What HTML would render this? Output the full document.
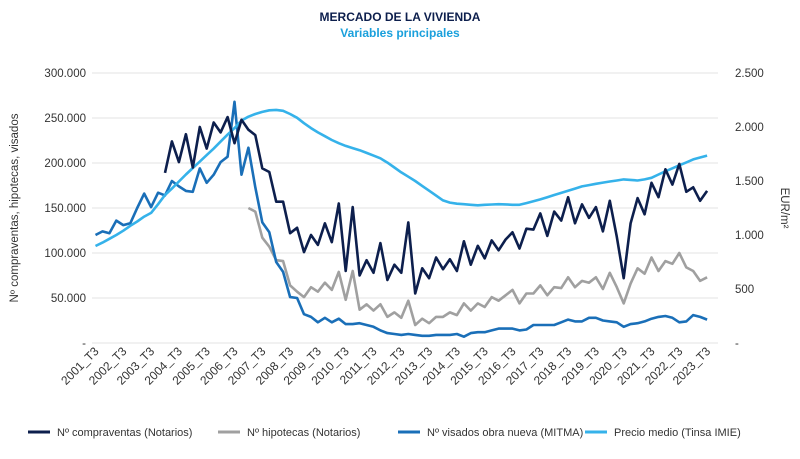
<!DOCTYPE html>
<html><head><meta charset="utf-8"><style>
body{margin:0;background:#fff;font-family:"Liberation Sans",sans-serif}
svg text{font-family:"Liberation Sans",sans-serif}
</style></head><body>
<svg id="chart" width="800" height="454" viewBox="0 0 800 454" xmlns="http://www.w3.org/2000/svg">
<text x="400" y="21" text-anchor="middle" font-size="12" font-weight="bold" fill="#0d1f4d">MERCADO DE LA VIVIENDA</text>
<text x="400" y="37" text-anchor="middle" font-size="12" font-weight="bold" fill="#1aa0dc">Variables principales</text>
<g id="grid"></g>
<g id="yl"></g>
<g id="yr"></g>
<g id="xl"></g>
<g id="series"></g>
<text transform="translate(18,208) rotate(-90)" text-anchor="middle" font-size="11.5" fill="#333">Nº compraventas, hipotecas, visados</text>
<text transform="translate(781,208) rotate(90)" text-anchor="middle" font-size="11.5" fill="#333">EUR/m²</text>
<g font-size="11" fill="#333">
<g><line x1="28" y1="432" x2="50" y2="432" stroke="#0d1f4d" stroke-width="3"/><text x="57" y="436">Nº compraventas (Notarios)</text></g>
<g><line x1="218" y1="432" x2="240" y2="432" stroke="#a0a0a0" stroke-width="3"/><text x="247" y="436">Nº hipotecas (Notarios)</text></g>
<g><line x1="398" y1="432" x2="420" y2="432" stroke="#1a6fb8" stroke-width="3"/><text x="427" y="436">Nº visados obra nueva (MITMA)</text></g>
<g><line x1="585" y1="432" x2="607" y2="432" stroke="#35b2ea" stroke-width="3"/><text x="614" y="436">Precio medio (Tinsa IMIE)</text></g>
</g>
</svg>
<script>
const leftTicks=[0,50000,100000,150000,200000,250000,300000];
const leftTickLabels=["-","50.000","100.000","150.000","200.000","250.000","300.000"];
const rightTicks=[0,500,1000,1500,2000,2500];
const rightTickLabels=["-","500","1.000","1.500","2.000","2.500"];
const startYear=2001;
const compraventas=[null,null,null,null,null,null,null,null,null,null,
189,224,201,232,195,240,216,245,234,251,222,248,237,231,194,190,157,157,122,128,101,120,109,133,112,155,80,151,75,92,78,111,70,87,78,
134,55,83,72,95,82,93,80,113,87,108,94,114,103,115,123,105,127,126,144,119,146,136,162,133,154,139,151,124,158,118,72,133,161,143,178,162,193,176,199,168,173,158,169].map(v=>v==null?null:v*1000);
const hipotecas=[null,null,null,null,null,null,null,null,null,null,null,null,null,null,null,null,null,null,null,null,null,null,
150,146,117,107,92,91,64,57,51,62,57,67,59,79,48,80,37,43,36,43,29,34,28,
47,20,27,22,29,29,34,31,44,36,44,40,51,47,53,59,44,55,55,64,53,62,61,73,62,69,67,73,60,78,62,44,66,83,77,95,80,91,88,100,84,80,69,73].map(v=>v==null?null:v*1000);
const visados=[120,124,122,136,131,133,150,166,151,167,164,180,174,169,168,194,178,187,201,207,268,187,217,173,134,123,90,79,51,50,32,29,23,28,23,27,21,21,22,20,18,14,11,10,9,
10,9,8,8,9,9,9,10,7,11,12,12,14,16,16,16,14,15,20,20,20,20,23,26,24,24,28,28,25,24,23,18,21,22,24,27,29,30,28,23,24,31,29,26].map(v=>v*1000);
const precio=[898,930,965,1000,1040,1085,1125,1170,1205,1285,1370,1430,1495,1560,1620,1680,1740,1800,1865,1930,1990,2060,2095,2120,2140,2155,2158,2150,2120,2085,2035,1990,1950,1915,1880,1850,1825,1805,1785,1760,1735,1710,1670,1625,1580,1540,1500,1455,1410,1365,1320,1300,1290,1285,1280,1275,1280,1282,1285,1283,1280,1280,1295,1312,1330,1350,1370,1390,1410,1430,1450,1462,1474,1485,1495,1505,1515,1510,1505,1515,1530,1560,1590,1618,1645,1672,1700,1718,1735];

const NS="http://www.w3.org/2000/svg";
const X0=95.5,DX=6.95,Y0=343,H=270;
const xS=i=>X0+i*DX;
const yL=v=>Y0-v/300000*H;
const yR=v=>Y0-v/2500*H;
function mk(tag,attrs,parent,txt){const e=document.createElementNS(NS,tag);for(const k in attrs)e.setAttribute(k,attrs[k]);if(txt!=null)e.textContent=txt;parent.appendChild(e);return e;}
const grid=document.getElementById('grid'),yl=document.getElementById('yl'),yr=document.getElementById('yr'),xl=document.getElementById('xl'),ser=document.getElementById('series');
leftTicks.forEach((t,i)=>{
 const g=mk('line',{x1:92,x2:718,y1:yL(t),y2:yL(t),stroke:'#e3e3e3','stroke-width':1},grid);
 
 
 const l=mk('text',{x:86,y:yL(t)+4,'text-anchor':'end','font-size':11.5,fill:'#333'},yl,leftTickLabels[i]);
 
 
});
rightTicks.forEach((t,i)=>{
 const l=mk('text',{x:735,y:yR(t)+4,'text-anchor':'start','font-size':11.5,fill:'#333'},yr,rightTickLabels[i]);
 
 
});
for(let i=0;i<precio.length;i+=4){
 const x=xS(i)+4,y=352;
 const l=mk('text',{x:x,y:y,'text-anchor':'end','font-size':12,fill:'#333',transform:`rotate(-45 ${x} ${y})`},xl,(startYear+i/4)+'_T3');
 
 
}
function line(data,ys,color,name){
 let d='',pen=false;
 data.forEach((v,i)=>{if(v==null){pen=false;return;}d+=(pen?'L':'M')+xS(i).toFixed(1)+' '+ys(v).toFixed(1)+' ';pen=true;});
 const p=mk('path',{d:d,fill:'none',stroke:color,'stroke-width':2.6,'stroke-linejoin':'round'},ser);
 
 
}
line(hipotecas,yL,'#a0a0a0','hipotecas-line');
line(visados,yL,'#1a6fb8','visados-line');
line(precio,yR,'#35b2ea','precio-line');
line(compraventas,yL,'#0d1f4d','compraventas-line');
</script>
</body></html>
